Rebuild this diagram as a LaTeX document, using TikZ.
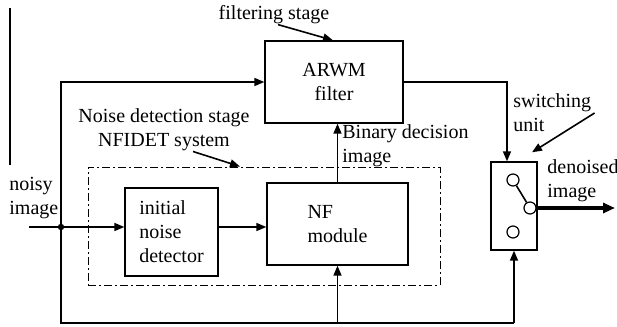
\documentclass[tikz,border=0pt]{standalone}
\usepackage{fontspec}
\setmainfont{Liberation Serif}
\usetikzlibrary{shapes}
\usetikzlibrary{arrows.meta}

\begin{document}
\begin{tikzpicture}[x=0.5pt,y=-0.5pt,
  >={Triangle[length=5pt,width=4pt]},
  block/.style={draw,line width=0.7pt,inner sep=0pt},
  lbl/.style={align=left,inner sep=0pt},
  conn/.style={line width=0.8pt},
  pin/.style={draw,circle,inner sep=0pt,minimum size=6pt,line width=0.6pt}]
\useasboundingbox (0,0) rectangle (617,327);
%%%%%%%%%
% blocks
\node [block,minimum width=69pt,minimum height=41pt,align=center] (arwm) at (334,82) {ARWM\\filter};
\node [block,minimum width=46.5pt,minimum height=44pt,align=left] (init) at (171.5,232) {initial\\noise\\detector};
\node [block,minimum width=70.5pt,minimum height=41pt,align=left] (nf) at (337.5,224) {NF\\module};
\node [block,minimum width=23pt,minimum height=44pt] (sw) at (514,206) {};
\node [draw,line width=0.5pt,dash pattern=on 4pt off 1.5pt on 1pt off 1.5pt,
  minimum width=176pt,minimum height=59pt,inner sep=0pt] (stage) at (264,226) {};
%%%%%%%%%
% switch
\node [pin] (c1) at (513,180) {};
\node [pin] (c2) at (530,208) {};
\node [pin] (c3) at (513,232) {};
\draw [conn] (c1) -- (c2);
%%%%%%%%%
% labels
\node [lbl] (filtlbl) at (274,15) {filtering stage};
\node [lbl,align=center] (noiselbl) at (164,130) {Noise detection stage\\NFIDET system};
\node [lbl,anchor=west] (binlbl) at (342,146) {Binary decision\\image};
\node [lbl,anchor=west] (swlbl) at (513,113) {switching\\unit};
\node [lbl,anchor=west] (outlbl) at (547,181) {denoised\\image};
\node [lbl,anchor=west] (inlbl) at (9,198) {noisy\\image};
\draw [conn,->] ([xshift=2pt]filtlbl.south) -- ([xshift=-0.5pt]arwm.north);
\draw [conn,->] ([xshift=14.5pt]noiselbl.south) -- ([xshift=-12pt]stage.north);
\draw [conn,->] ([xshift=1.5pt]swlbl.east) -- ([xshift=9pt,yshift=4.5pt]sw.north);
\draw [line width=0.6pt] (10,8) -- (10,165);
%%%%%%%%%
% connectors
\coordinate (src) at (29,227);
\coordinate (split) at (61,227);
\coordinate (bot) at (61,323);
\coordinate (out) at (615,208);
\fill (split) circle (1.6pt);
\draw [conn,->] (src) -- (src -| init.west);
\draw [conn,->] (split) |- (arwm.west);
\draw [conn,->] (init.east |- src) -- (src -| nf.west);
\draw [conn,->] (nf.north) -- (arwm.south -| nf.north);
\draw [conn,->] (arwm.east) -| ([xshift=-3.5pt]sw.north);
\draw [conn] (split) -- (bot) -- (bot -| sw.south);
\draw [conn,->] (bot -| nf.south) -- (nf.south);
\draw [conn,->] (bot -| sw.south) -- (sw.south);
\draw [line width=1.8pt,-{Triangle[length=6pt,width=5pt]}] (c2) -- (out);
\end{tikzpicture}
\end{document}
